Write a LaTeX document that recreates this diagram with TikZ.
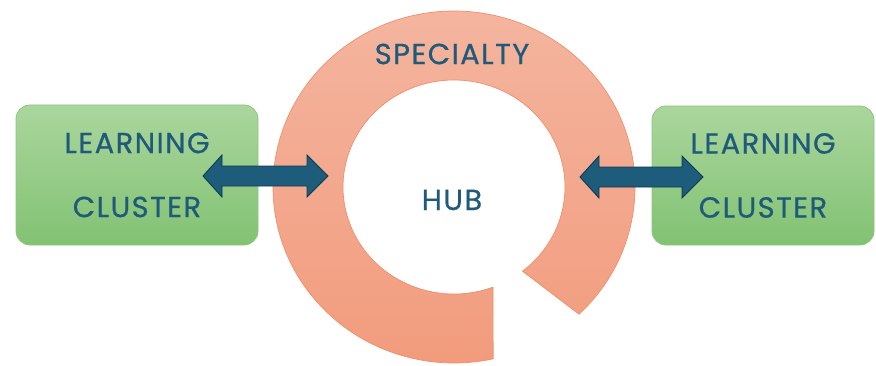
\documentclass[tikz,border=0pt]{standalone}
\usepackage{fontspec}
\setmainfont{Poppins}[LetterSpace=5, FakeBold=0.6, AutoFakeBold=0.6]
\usetikzlibrary{calc}
\definecolor{txtblue}{HTML}{1F5A7A}
\definecolor{arrowfill}{HTML}{1E5C7B}
\definecolor{arrowline}{HTML}{0E3A50}
\definecolor{ringtop}{HTML}{F4B6A0}
\definecolor{ringbot}{HTML}{F29B7C}
\definecolor{ringline}{HTML}{EF8F6C}
\definecolor{greentop}{HTML}{AAD69D}
\definecolor{greenbot}{HTML}{82C273}
\definecolor{greenline}{HTML}{8DC67E}
\tikzset{
  cluster/.style={rounded corners=14pt, top color=greentop, bottom color=greenbot,
    draw=greenline, line width=0.8pt, align=center, text=txtblue,
    font=\fontsize{29}{64}\selectfont, inner sep=0pt},
  label/.style={text=txtblue, font=\fontsize{29}{30}\selectfont, inner sep=0pt},
  dblarrow/.style={fill=arrowfill, draw=arrowline, line width=0.9pt, line join=miter}
}
\newcommand{\bothways}[2]{%
  \draw[dblarrow] (#1) -- ($(#1)+(19,21)$) -- ($(#1)+(19,10)$) -- ($(#2)+(-21,10)$)
    -- ($(#2)+(-21,21)$) -- (#2) -- ($(#2)+(-21,-21)$) -- ($(#2)+(-21,-10)$)
    -- ($(#1)+(19,-10)$) -- ($(#1)+(19,-21)$) -- cycle;}
\begin{document}
\begin{tikzpicture}[x=1pt,y=1pt]
\useasboundingbox (0,0) rectangle (876,365);
\coordinate (c) at (454,178);
% ring with gap
\draw[top color=ringtop, bottom color=ringbot, draw=ringline, line width=0.7pt]
  ($(c)+(-46.3:181 and 176)$) arc[start angle=-46.3, end angle=282.5, x radius=181, y radius=176]
  -- ($(c)+(290.6:111 and 107)$) arc[start angle=290.6, end angle=-51.9, x radius=111, y radius=107]
  -- cycle;
\node[label] (spec) at (452,311) {SPECIALTY};
\node[label] (hub) at (452,165) {HUB};
% clusters
\node[cluster, minimum width=242pt, minimum height=140pt] (lc) at (137,190) {LEARNING\\CLUSTER};
\node[cluster, minimum width=222pt, minimum height=139pt] (rc) at (763,189.5) {LEARNING\\CLUSTER};
% arrows
\coordinate (la) at (203,189);
\coordinate (lb) at (328,189);
\coordinate (ra) at (580,188);
\coordinate (rb) at (703,188);
\bothways{la}{lb}
\bothways{ra}{rb}
\end{tikzpicture}
\end{document}
